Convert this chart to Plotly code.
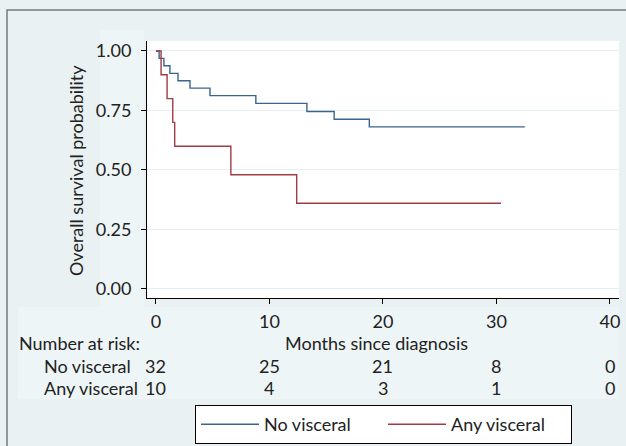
import plotly.graph_objects as go

# ---- data ----
no_visc_time = [0, 0.28, 0.7, 1.23, 1.94, 3.0, 4.76, 8.8, 13.3, 15.7, 18.8, 32.5]
no_visc_surv = [1.0, 0.969, 0.938, 0.906, 0.875, 0.844, 0.8125, 0.78, 0.746, 0.713, 0.681, 0.681]

any_visc_time = [0, 0.45, 0.98, 1.48, 1.65, 6.6, 12.4, 30.4]
any_visc_surv = [1.0, 0.9, 0.8, 0.7, 0.6, 0.48, 0.36, 0.36]

risk_times = [0, 10, 20, 30, 40]
risk_no_visc = [32, 25, 21, 8, 0]
risk_any_visc = [10, 4, 3, 1, 0]

x_ticks = [0, 10, 20, 30, 40]
y_ticks = [0, 0.25, 0.5, 0.75, 1.0]
y_ticklabels = ["0.00", "0.25", "0.50", "0.75", "1.00"]

BLUE = "#3a6590"
RED = "#a03c45"
BG = "#e9f1f3"
LIGHT = "#eef5f7"
FONT = "Lato"
FS = 18
TXT = "#222222"

W, H = 626, 446
L, T, R, B = 147, 41, 619, 298
PW, PH = R - L, B - T


def px_x(p):
    return (p - L) / PW


def px_y(p):
    return (B - p) / PH


fig = go.Figure()
fig.add_trace(go.Scatter(x=no_visc_time, y=no_visc_surv, mode="lines",
                         line=dict(shape="hv", color=BLUE, width=1.4),
                         name="No visceral", legendwidth=114))
fig.add_trace(go.Scatter(x=any_visc_time, y=any_visc_surv, mode="lines",
                         line=dict(shape="hv", color=RED, width=1.4),
                         name="Any visceral", legendwidth=115))

annotations = []
# risk table
for t, n1, n2 in zip(risk_times, risk_no_visc, risk_any_visc):
    annotations.append(dict(x=t, xref="x", y=px_y(366), yref="paper", text=str(n1),
                            showarrow=False, xanchor="center", yanchor="middle"))
    annotations.append(dict(x=t, xref="x", y=px_y(388), yref="paper", text=str(n2),
                            showarrow=False, xanchor="center", yanchor="middle"))
annotations += [
    dict(x=px_x(17), y=px_y(343), xref="paper", yref="paper", text="Number at risk:",
         showarrow=False, xanchor="left", yanchor="middle"),
    dict(x=px_x(42), y=px_y(366), xref="paper", yref="paper", text="No visceral",
         showarrow=False, xanchor="left", yanchor="middle"),
    dict(x=px_x(42), y=px_y(388), xref="paper", yref="paper", text="Any visceral",
         showarrow=False, xanchor="left", yanchor="middle"),
    dict(x=px_x(376), y=px_y(343), xref="paper", yref="paper", text="Months since diagnosis",
         showarrow=False, xanchor="center", yanchor="middle"),
    dict(x=px_x(76), y=px_y(171), xref="paper", yref="paper", text="Overall survival probability",
         showarrow=False, xanchor="center", yanchor="middle", textangle=-90),
]

shapes = [
    # lighter panels
    dict(type="rect", xref="paper", yref="paper", x0=px_x(100), x1=px_x(144),
         y0=px_y(30), y1=px_y(307), fillcolor=LIGHT, line=dict(width=0), layer="below"),
    dict(type="rect", xref="paper", yref="paper", x0=px_x(18), x1=px_x(619),
         y0=px_y(307), y1=px_y(399), fillcolor=LIGHT, line=dict(width=0), layer="below"),
    # outer frame
    dict(type="rect", xref="paper", yref="paper", x0=px_x(7), x1=px_x(640),
         y0=px_y(10), y1=px_y(460), fillcolor="rgba(0,0,0,0)",
         line=dict(color="#7a7a7a", width=1.5), layer="below"),
]

fig.update_layout(
    width=W, height=H,
    margin=dict(l=L, r=W - R, t=T, b=H - B, pad=0),
    paper_bgcolor=BG, plot_bgcolor="white",
    font=dict(family=FONT, size=FS, color=TXT),
    showlegend=True,
    legend=dict(orientation="h", xref="container", yref="container",
                x=195 / W, y=1 - 405 / H, xanchor="left", yanchor="top",
                bgcolor="white", bordercolor="black", borderwidth=1,
                itemwidth=58, entrywidthmode="pixels",
                font=dict(family=FONT, size=FS, color=TXT), tracegroupgap=0),
    annotations=annotations,
    shapes=shapes,
)
fig.update_xaxes(range=[-0.79, 40.8], tickvals=x_ticks, ticks="outside", ticklen=5,
                 tickcolor="black", showline=True, linecolor="black", linewidth=1,
                 showgrid=False, zeroline=False, ticklabelstandoff=2)
fig.update_yaxes(range=[-0.038, 1.042], tickvals=y_ticks, ticktext=y_ticklabels,
                 ticks="outside", ticklen=5, tickcolor="black", showline=True,
                 linecolor="black", linewidth=1, showgrid=True, gridcolor="#e6f0f2",
                 gridwidth=1, zeroline=False, ticklabelstandoff=6)

fig.write_html("out.html")
